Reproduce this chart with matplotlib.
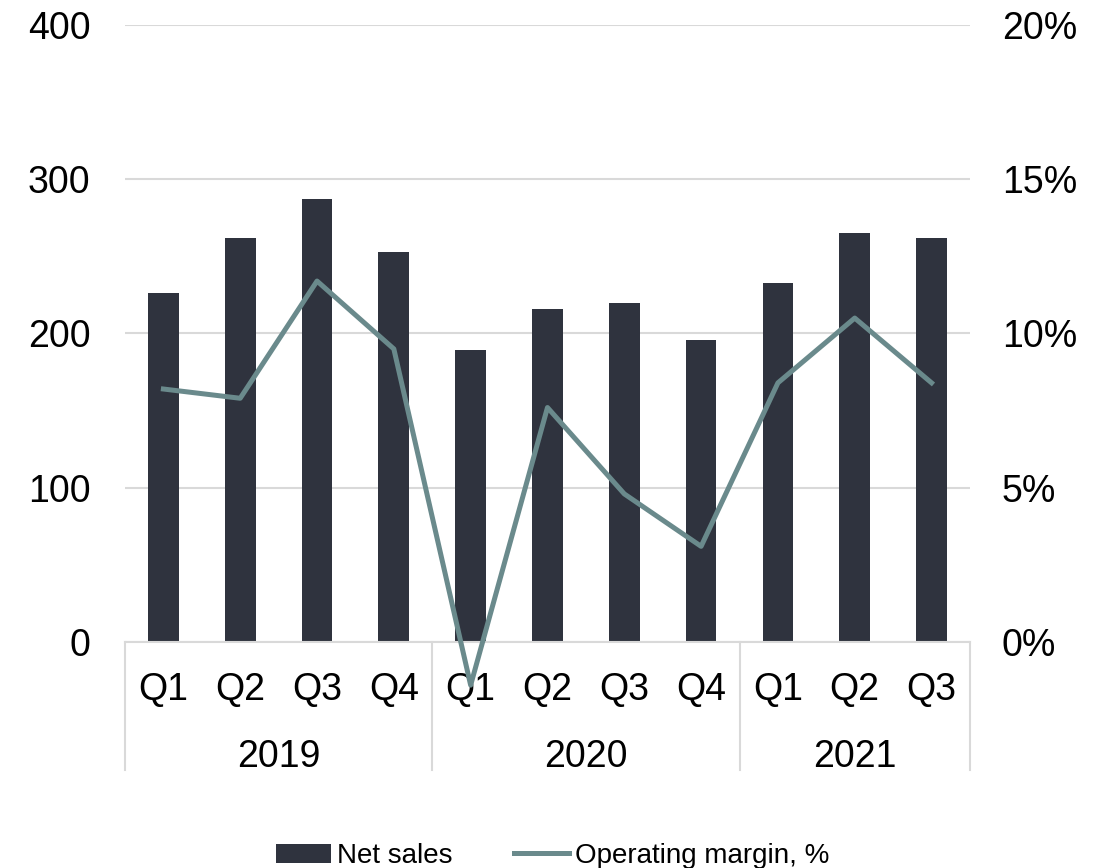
import matplotlib
matplotlib.use("Agg")
import matplotlib.pyplot as plt
import numpy as np
from matplotlib.ticker import FuncFormatter

plt.rcParams["font.family"] = ["Liberation Sans", "DejaVu Sans"]

quarters = ["Q1", "Q2", "Q3", "Q4", "Q1", "Q2", "Q3", "Q4", "Q1", "Q2", "Q3"]
years = ["2019", "2020", "2021"]
year_counts = [4, 4, 3]
net_sales = [226, 262, 287, 253, 189, 216, 220, 196, 233, 265, 262]
op_margin = [8.2, 7.9, 11.7, 9.5, -1.4, 7.6, 4.8, 3.1, 8.4, 10.5, 8.4]

BAR = "#2f333e"
LINE = "#6a8a8c"
GRID = "#d9d9d9"
FS = 27

fig = plt.figure(figsize=(11.05, 8.68), dpi=100)
ax = fig.add_axes([0.1131, 0.2604, 0.7647, 0.7108])
x = np.arange(len(quarters))
ax.bar(x, net_sales, width=0.4, color=BAR, label="Net sales", zorder=2)
ax.set_xlim(-0.5, len(quarters) - 0.5)
ax.set_ylim(0, 400)
ax.set_yticks([0, 100, 200, 300, 400])
ax.grid(axis="y", color=GRID, lw=1.5, zorder=0)
ax.tick_params(axis="y", length=0, labelsize=FS, pad=25)
ax.set_xticks([])
for s in ["top", "right", "left"]:
    ax.spines[s].set_visible(False)
ax.spines["bottom"].set_color(GRID)
ax.spines["bottom"].set_linewidth(1.5)

ax2 = ax.twinx()
ax2.plot(x, op_margin, color=LINE, lw=3.6, clip_on=False, label="Operating margin, %", zorder=3)
ax2.set_ylim(0, 20)
ax2.set_yticks([0, 5, 10, 15, 20])
ax2.yaxis.set_major_formatter(FuncFormatter(lambda v, p: f"{v:.0f}%"))
ax2.tick_params(axis="y", length=0, labelsize=FS, pad=23)
for s in ax2.spines.values():
    s.set_visible(False)

# multi-level category axis
trans = ax.get_xaxis_transform()
for i, q in enumerate(quarters):
    ax.text(i, -0.078, q, transform=trans, ha="center", va="center", fontsize=FS)
edges = np.concatenate([[0], np.cumsum(year_counts)]) - 0.5
for e in edges:
    ax.plot([e, e], [0, -0.208], transform=trans, color=GRID, lw=1.5, clip_on=False)
for yr, a, b in zip(years, edges[:-1], edges[1:]):
    ax.text((a + b) / 2, -0.187, yr, transform=trans, ha="center", va="center", fontsize=FS)

h1, l1 = ax.get_legend_handles_labels()
h2, l2 = ax2.get_legend_handles_labels()
fig.legend(h1 + h2, l1 + l2, loc="lower center", bbox_to_anchor=(0.5, -0.03), ncol=2,
           frameon=False, fontsize=20, handlelength=2.0, columnspacing=2.2, handletextpad=0.2)

fig.savefig("out.png", dpi=100)
